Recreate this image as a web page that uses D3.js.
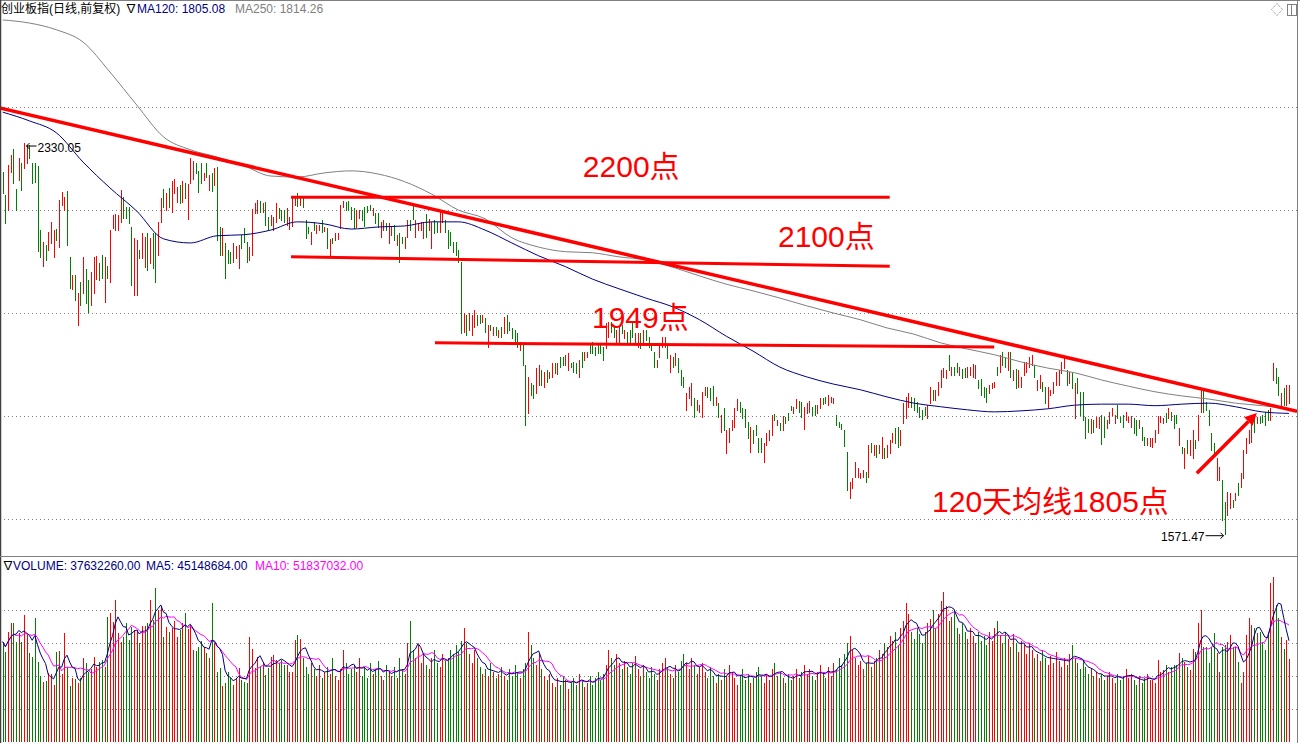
<!DOCTYPE html>
<html><head><meta charset="utf-8">
<script src="https://cdn.jsdelivr.net/npm/d3@7"></script>
<style>html,body{margin:0;padding:0;background:#fff;overflow:hidden}</style>
</head><body>
<svg id="c" width="1300" height="743"></svg>
<script>
// ---------------- DATA ----------------
const highs = [
2274,2229,2288,2307,2319,2241,2301,2292,2330.05,2326,
2326,2292,2292,2286,2161,2138,2132,2157,2177,2161,
2163,2220,2235,2225,2237,2109,2074,2074,2039,2060,
2109,2086,2064,2080,2109,2111,2097,2113,2109,2091,
2161,2190,2192,2190,2239,2225,2206,2206,2167,2146,
2142,2123,2156,2148,2156,2146,2156,2156,2177,2224,
2241,2233,2243,2257,2260,2245,2249,2257,2253,2251,
2301,2295,2292,2276,2292,2272,2292,2268,2272,2282,
2284,2167,2165,2136,2123,2119,2136,2130,2132,2152,
2165,2138,2128,2202,2214,2220,2218,2214,2216,2187,
2190,2187,2214,2204,2200,2200,2204,2187,2225,2224,
2233,2224,2225,2181,2167,2157,2177,2171,2171,2181,
2167,2165,2144,2146,2156,2156,2210,2218,2216,2218,
2206,2204,2200,2200,2200,2206,2208,2210,2204,2194,
2194,2177,2181,2175,2175,2169,2171,2152,2156,2148,
2148,2181,2181,2210,2181,2175,2177,2177,2192,2183,
2177,2181,2177,2200,2196,2181,2161,2157,2138,2138,
2123,2099,2000,1996,2000,1996,2006,1996,1996,1996,
1990,1977,1977,1973,1973,1967,1973,1992,1996,1983,
1971,1967,1961,1944,1940,1899,1876,1864,1860,1893,
1899,1889,1886,1889,1886,1903,1903,1903,1915,1915,
1919,1922,1903,1905,1903,1909,1924,1924,1924,1938,
1944,1934,1942,1938,1934,1981,1983,1983,1973,1967,
1973,1977,1967,1963,1967,1983,1961,1961,1961,1967,
1967,1954,1942,1924,1909,1938,1954,1954,1938,1919,
1915,1922,1913,1889,1876,1845,1856,1864,1835,1831,
1822,1847,1856,1856,1854,1858,1837,1825,1802,1816,
1773,1777,1792,1816,1833,1827,1816,1814,1788,1779,
1773,1783,1757,1757,1748,1767,1773,1802,1804,1792,
1787,1800,1798,1806,1820,1818,1833,1829,1827,1818,
1825,1829,1818,1822,1822,1835,1835,1837,1841,1837,
1835,1802,1788,1785,1773,1730,1672,1680,1711,1699,
1689,1695,1691,1744,1748,1744,1744,1744,1759,1738,
1744,1754,1767,1777,1779,1773,1825,1837,1845,1837,
1835,1827,1818,1812,1818,1822,1856,1851,1851,1866,
1889,1893,1889,1919,1895,1895,1903,1895,1891,1893,
1895,1895,1901,1899,1870,1872,1856,1854,1860,1864,
1866,1895,1919,1924,1913,1924,1924,1889,1891,1889,
1876,1905,1905,1915,1919,1899,1870,1880,1866,1856,
1856,1851,1866,1886,1889,1905,1913,1889,1886,1884,
1864,1874,1847,1847,1798,1794,1794,1792,1798,1798,
1802,1798,1792,1808,1816,1802,1822,1798,1802,1808,
1798,1800,1796,1792,1792,1779,1759,1757,1757,1757,
1773,1800,1800,1796,1806,1816,1808,1802,1802,1777,
1740,1738,1754,1754,1773,1754,1802,1851,1854,1827,
1812,1767,1748,1719,1701,1676,1633,1653,1651,1637,
1651,1670,1689,1734,1757,1773,1798,1802,1798,1798,
1802,1808,1812,1816,1903,1893,1876,1845,1854,1860,1860];

const lows = [
2233,2175,2200,2274,2253,2200,2258,2239,2282,2292,
2301,2253,2255,2121,2109,2091,2103,2123,2136,2109,
2142,2128,2210,2200,2132,2049,2047,2025,1977,2016,
2039,2020,2002,2016,2039,2066,2064,2068,2022,2068,
2060,2165,2161,2161,2177,2185,2185,2175,2055,2035,
2035,2107,2107,2090,2084,2097,2088,2060,2113,2177,
2206,2200,2206,2196,2233,2216,2214,2216,2224,2183,
2253,2260,2272,2235,2253,2258,2264,2239,2237,2249,
2142,2113,2113,2068,2097,2097,2099,2107,2088,2126,
2138,2099,2103,2113,2194,2194,2196,2196,2171,2161,
2171,2161,2177,2185,2181,2177,2171,2163,2169,2210,
2208,2210,2206,2146,2155,2134,2161,2155,2161,2157,
2159,2126,2113,2136,2142,2144,2165,2206,2200,2200,
2183,2165,2167,2185,2181,2169,2196,2200,2190,2175,
2167,2148,2161,2161,2136,2152,2142,2132,2099,2136,
2126,2148,2161,2183,2148,2161,2161,2146,2148,2161,
2126,2155,2157,2157,2177,2157,2126,2132,2119,2113,
2099,1961,1963,1957,1967,1957,1973,1977,1981,1983,
1963,1934,1967,1957,1957,1954,1954,1961,1961,1967,
1952,1942,1934,1928,1899,1783,1806,1841,1835,1845,
1860,1860,1856,1866,1874,1876,1884,1882,1895,1899,
1899,1889,1895,1886,1884,1876,1895,1909,1915,1922,
1922,1919,1922,1922,1909,1932,1954,1963,1954,1942,
1944,1961,1952,1944,1942,1954,1942,1934,1932,1944,
1948,1934,1928,1895,1895,1915,1934,1934,1913,1886,
1895,1899,1886,1860,1856,1812,1835,1822,1798,1812,
1808,1798,1841,1837,1831,1822,1822,1798,1769,1773,
1728,1750,1773,1779,1812,1808,1796,1779,1757,1730,
1748,1763,1730,1730,1711,1744,1754,1763,1792,1783,
1773,1773,1787,1792,1812,1806,1816,1808,1798,1775,
1806,1808,1802,1802,1806,1816,1823,1825,1822,1827,
1825,1783,1779,1775,1742,1656,1641,1660,1682,1682,
1680,1682,1672,1682,1730,1724,1720,1728,1719,1719,
1720,1728,1750,1748,1740,1744,1786,1796,1818,1818,
1812,1808,1798,1794,1802,1796,1825,1831,1831,1841,
1856,1876,1874,1889,1880,1880,1886,1880,1874,1876,
1876,1880,1876,1874,1854,1841,1837,1827,1845,1854,
1856,1880,1886,1899,1895,1889,1876,1870,1854,1856,
1856,1880,1886,1895,1899,1876,1851,1854,1849,1825,
1818,1841,1845,1860,1860,1884,1893,1860,1864,1854,
1796,1845,1802,1792,1757,1769,1767,1769,1779,1777,
1746,1759,1777,1787,1802,1787,1796,1788,1779,1792,
1788,1779,1767,1763,1777,1754,1744,1744,1742,1740,
1750,1767,1788,1787,1788,1796,1792,1777,1787,1744,
1728,1699,1728,1724,1719,1738,1754,1808,1808,1812,
1783,1734,1724,1676,1676,1598,1571.47,1608,1622,1624,
1637,1647,1662,1680,1728,1748,1750,1769,1787,1787,
1788,1783,1792,1792,1870,1864,1841,1822,1822,1822,1825];

// 1 = closed up (red), 0 = closed down (green)
const up = [
0,0,1,1,0,0,1,0,1,1, 0,0,0,0,0,1,0,1,1,1, 0,1,1,1,0,0,1,0,1,0, 1,0,0,1,1,1,0,0,1,0,
1,1,1,1,1,0,0,0,0,1, 1,0,1,1,0,1,0,0,1,1, 0,1,0,1,1,1,0,1,0,1, 1,1,0,0,0,1,0,1,0,1,
0,0,1,0,0,0,1,1,1,0, 0,0,1,1,1,1,0,1,0,0, 1,1,1,0,0,0,1,1,1,1, 0,1,0,0,0,1,0,1,1,0,
1,0,1,0,1,1,1,1,0,0, 0,0,1,1,0,0,0,0,1,0, 0,1,1,0,1,1,0,1,0,0, 1,1,0,0,1,1,1,1,0,1,
1,0,0,1,1,0,0,0,0,0, 0,0,1,0,1,1,1,0,0,1, 0,1,0,1,0,1,0,1,0,0, 0,0,0,1,0,0,1,0,0,1,
1,0,1,0,1,1,0,1,0,0, 1,1,0,0,0,1,0,1,1,0, 0,0,0,0,0,1,1,0,0,1, 1,0,1,0,0,0,1,1,0,1,
0,0,0,0,1,1,1,1,0,1, 0,1,0,0,0,1,1,1,0,1, 1,1,1,0,0,0,1,0,1,0, 1,1,1,1,1,0,0,0,0,1,
0,0,0,0,1,1,1,1,0,1, 0,1,0,0,0,1,1,0,0,1, 1,1,0,0,1,1,0,0,1,1, 1,0,0,0,0,0,1,1,1,1,
1,1,0,1,0,1,0,1,1,0, 1,1,1,0,0,1,1,1,1,0, 0,0,0,0,0,1,1,0,1,1, 1,1,1,0,1,0,0,1,0,0,
1,1,1,1,0,0,0,0,1,1, 1,0,1,0,0,1,0,1,0,1, 1,1,1,1,1,0,1,1,0,0, 1,1,1,1,1,1,1,0,1,0,
1,0,0,0,0,0,1,0,1,1, 0,0,1,1,1,1,0,0,0,1, 1,1,0,0,1,0,0,1,1,1, 1,1,1,1,0,1,0,0,0,1,
0,1,0,1,1,0,1,1,0,0, 0,0,0,1,1,0,0,1,1,0, 1,0,1,1,1,1,1,0,1,0, 0,0,0,1,1,0,0,1,0,1,1];

// volume, millions of shares
const volumeM = [
45.6,41.0,50.1,54.1,54.1,45.6,49.5,45.6,57.7,48.6,
40.5,38.8,56.4,36.5,30.0,27.4,27.9,31.4,30.9,25.9,
41.0,41.5,30.9,49.7,34.2,25.5,29.2,28.5,26.7,29.0,
38.0,35.8,32.0,33.0,38.5,34.2,36.5,37.3,34.2,57.0,
58.8,54.7,64.5,49.4,45.6,47.9,53.9,46.4,52.4,50.9,
50.9,44.9,52.7,52.7,53.9,64.5,55.4,69.9,60.0,61.8,
47.9,52.4,50.1,51.7,55.1,47.9,50.9,53.9,58.5,51.2,
53.2,41.8,41.4,43.3,46.0,43.3,40.3,38.0,63.3,44.9,
32.0,33.5,25.5,26.7,32.0,29.0,25.9,29.0,33.5,28.2,
27.4,26.7,47.9,42.1,33.5,38.5,34.2,35.8,30.5,33.5,
38.5,39.5,37.3,36.0,37.3,35.0,35.0,32.0,32.0,46.4,
48.6,
47,38,34,31,36,33,30,35,29,32,34,31,38,30,28,33,42,36,31,33,
35,32,38,30,34,29,36,31,33,37,30,28,35,32,30,34,29,38,33,31,
45,55,42,38,44,36,40,35,33,38,42,36,34,40,37,
38,42,40,44,41,46,52,
45,40,36,42,38,34,31,33,30,36,32,29,31,34,30,28,33,30,35,32,29,33,36,
50,44,38,35,40,
33,30,28,31,27,25,29,26,30,28,24,27,29,26,31,28,25,27,30,26,29,32,28,31,35,
42,38,35,40,36,33,37,34,31,36,39,33,30,35,32,29,34,31,28,33,36,38,34,31,29,35,32,37,40,36,33,38,35,31,34,
36,32,29,34,30,27,31,28,33,30,35,32,29,26,30,33,28,31,27,29,32,34,30,27,31,28,33,36,30,32,29,27,31,28,30,33,29,32,35,31,
33,30,28,32,35,31,29,34,30,36,33,38,35,40,45,48,42,38,35,37,33,36,39,34,37,
38,42,40,45,43,48,46,50,44,52,55,63,58,50,47,52,49,45,50,54,
56,60,52,58,64,68,62,55,57,60,52,49,54,50,47,52,48,45,50,46,
48,44,50,46,52,55,48,45,50,47,43,49,45,41,46,44,40,45,42,38,
40,37,42,38,35,39,36,41,37,34,38,35,40,44,38,36,33,37,34,31,
33,30,32,29,31,28,30,32,29,27,31,28,30,33,29,31,28,26,30,27,29,31,28,
28.2,26.7,37.3,32.0,32.7,35.0,32.0,34.2,35.0,35.0,40.3,38.0,36.5,34.2,32.7,42.1,41.0,53.9,60.0,43.3,
43.3,35.8,43.3,49.4,40.3,32.0,43.3,44.1,45.6,48.6,43.3,43.3,36.5,26.7,32.0,48.6,56.2,53.2,51.7,49.4,
50.1,45.6,41.8,50.1,72.1,74.9,62.3,56.2,47.9,42.1,46.4,37.63];

// moving averages read every 10 bars
const maStep = 10;
const ma120 = [2390,2373,2350,2293,2243,2198,2144,2136,2150,2152,
2161,2177,2173,2163,2167,2169,2177,2177,2161,2136,
2111,2090,2066,2047,2029,2012,1987,1955,1926,1895,
1876,1862,1851,1837,1825,1818,1812,1808,1810,1814,
1821,1823,1823,1820,1823,1825,1818,1808,1805.08];
const ma250 = [2569,2563,2550,2526,2468,2404,2342,2317,2303,2286,
2266,2264,2272,2276,2270,2255,2231,2200,2183,2146,
2128,2119,2117,2109,2103,2089,2072,2056,2043,2029,
2014,2000,1987,1971,1959,1942,1930,1919,1905,1893,
1884,1870,1858,1847,1839,1833,1825,1820,1814.26];

const priceTicks = [1600, 1800, 2000, 2200, 2400];
const volTicks = [15, 30, 45, 60];

const titleText = "创业板指(日线,前复权)";
const ma120Text = "MA120: 1805.08";
const ma250Text = "MA250: 1814.26";
const volText = "VOLUME: 37632260.00";
const ma5Text = "MA5: 45148684.00";
const ma10Text = "MA10: 51837032.00";
const highLabel = "2330.05";
const lowLabel = "1571.47";

// annotations in data units (bar index, price)
const trendLine = [[-1.0, 2398], [483, 1809]];
const levelLines = [
  [[107.6, 2225], [331, 2225]],
  [[107.6, 2109], [331, 2091]],
  [[161.3, 1942], [370, 1934]]
];
const noteTexts = [
  {t: "2200点", i: 216.5, p: 2264},
  {t: "2100点", i: 289.3, p: 2128},
  {t: "1949点", i: 219.9, p: 1971},
  {t: "120天均线1805点", i: 346.8, p: 1614}
];
const arrowLine = [[445.6, 1689], [468, 1806]];

// ---------------- DRAW ----------------
const N = Math.min(highs.length, lows.length, up.length, volumeM.length);
const svg = d3.select("#c");
const RED = "#ff0000", GREEN = "#008000", NAVY = "#000080", GRAY = "#808080", MAG = "#ff00ff";
const FONT = "'Liberation Sans', Arial, 'Noto Sans CJK SC', sans-serif";

const x = d3.scaleLinear().domain([0, N - 1]).range([2.7, 1289]);
const y = d3.scaleLinear().domain([1600, 2400]).range([519, 107]);
const yv = d3.scaleLinear().domain([0, 60]).range([742, 610]);
const px = i => Math.round(x(i)) + 0.5;

svg.append("rect").attr("width", 1300).attr("height", 743).attr("fill", "#fff");

const defs = svg.append("defs");
defs.append("clipPath").attr("id", "cp").append("rect").attr("x", 1).attr("y", 17).attr("width", 1296).attr("height", 539);
defs.append("clipPath").attr("id", "cv").append("rect").attr("x", 1).attr("y", 574).attr("width", 1296).attr("height", 170);

// grid
svg.append("g").selectAll("line").data(priceTicks).join("line")
  .attr("x1", 0).attr("x2", 1297)
  .attr("y1", d => Math.round(y(d)) + 0.5).attr("y2", d => Math.round(y(d)) + 0.5)
  .attr("stroke", GRAY).attr("stroke-dasharray", "1,3");
svg.append("g").selectAll("line").data(volTicks).join("line")
  .attr("x1", 0).attr("x2", 1297)
  .attr("y1", d => Math.round(yv(d)) + 0.5).attr("y2", d => Math.round(yv(d)) + 0.5)
  .attr("stroke", GRAY).attr("stroke-dasharray", "1,3");

// frame
svg.append("line").attr("x1", 0).attr("x2", 1300).attr("y1", 0.5).attr("y2", 0.5).attr("stroke", GRAY);
svg.append("line").attr("x1", 0.5).attr("x2", 0.5).attr("y1", 0).attr("y2", 743).attr("stroke", "#404040").attr("stroke-width", 1.5);
svg.append("line").attr("x1", 1297.5).attr("x2", 1297.5).attr("y1", 0).attr("y2", 743).attr("stroke", GRAY);
svg.append("line").attr("x1", 0).attr("x2", 1297).attr("y1", 556.5).attr("y2", 556.5).attr("stroke", GRAY);

const idx = d3.range(N);

// candles
const pg = svg.append("g").attr("clip-path", "url(#cp)");
pg.append("g").attr("shape-rendering", "crispEdges").selectAll("line").data(idx).join("line")
  .attr("x1", px).attr("x2", px)
  .attr("y1", i => Math.round(y(highs[i]))).attr("y2", i => Math.round(y(lows[i])) + 1)
  .attr("stroke", i => up[i] ? RED : GREEN).attr("stroke-width", 1);

// MA lines
const maLine = d3.line().x(d => x(d[0])).y(d => y(d[1])).curve(d3.curveMonotoneX);
pg.append("path").attr("d", maLine(ma250.map((v, k) => [k * maStep, v])))
  .attr("fill", "none").attr("stroke", GRAY).attr("stroke-width", 1);
pg.append("path").attr("d", maLine(ma120.map((v, k) => [k * maStep, v])))
  .attr("fill", "none").attr("stroke", NAVY).attr("stroke-width", 1);

// annotations
const aLine = d3.line().x(d => x(d[0])).y(d => y(d[1]));
pg.append("path").attr("d", aLine(trendLine)).attr("stroke", RED).attr("stroke-width", 3.5).attr("fill", "none");
levelLines.forEach(l => pg.append("path").attr("d", aLine(l)).attr("stroke", RED).attr("stroke-width", 3).attr("fill", "none"));
noteTexts.forEach(n => pg.append("text").attr("x", x(n.i)).attr("y", y(n.p))
  .attr("fill", RED).attr("font-size", 30).attr("font-family", FONT).text(n.t));

// arrow
{
  const [a, b] = arrowLine;
  const x0 = x(a[0]), y0 = y(a[1]), x1 = x(b[0]), y1 = y(b[1]);
  const ang = Math.atan2(y1 - y0, x1 - x0);
  const hl = 12, hw = 6;
  const bx = x1 - hl * Math.cos(ang), by = y1 - hl * Math.sin(ang);
  pg.append("line").attr("x1", x0).attr("y1", y0).attr("x2", bx).attr("y2", by).attr("stroke", RED).attr("stroke-width", 3.5);
  pg.append("path").attr("d", `M${x1},${y1}L${bx + hw * Math.sin(ang)},${by - hw * Math.cos(ang)}L${bx - hw * Math.sin(ang)},${by + hw * Math.cos(ang)}Z`).attr("fill", RED);
}

// high / low labels
{
  const hi = highs.indexOf(d3.max(highs));
  const hx = px(hi), hy = y(highs[hi]);
  pg.append("path").attr("d", `M${hx + 12},${hy + 3}L${hx + 2},${hy + 3}M${hx + 5},${hy}L${hx + 2},${hy + 3}L${hx + 5},${hy + 6}`)
    .attr("stroke", "#000").attr("fill", "none");
  pg.append("text").attr("x", hx + 13).attr("y", hy + 9).attr("font-size", 12).attr("font-family", FONT).attr("fill", "#000").text(highLabel);
  const lo = lows.indexOf(d3.min(lows));
  const lx = px(lo), ly = y(lows[lo]);
  pg.append("path").attr("d", `M${lx - 20},${ly + 2}L${lx - 2},${ly + 2}M${lx - 5},${ly - 1}L${lx - 2},${ly + 2}L${lx - 5},${ly + 5}`)
    .attr("stroke", "#000").attr("fill", "none");
  pg.append("text").attr("x", lx - 21).attr("y", ly + 7).attr("text-anchor", "end").attr("font-size", 12).attr("font-family", FONT).attr("fill", "#000").text(lowLabel);
}

// volume
const vg = svg.append("g").attr("clip-path", "url(#cv)");
vg.append("g").attr("shape-rendering", "crispEdges").selectAll("line").data(idx).join("line")
  .attr("x1", px).attr("x2", px)
  .attr("y1", yv(0)).attr("y2", i => Math.round(yv(volumeM[i])))
  .attr("stroke", i => up[i] ? RED : GREEN).attr("stroke-width", 1);
const mav = n => idx.map(i => d3.mean(volumeM.slice(Math.max(0, i - n + 1), i + 1)));
const vLine = d3.line().x((d, i) => x(i)).y(d => yv(d));
vg.append("path").attr("d", vLine(mav(10))).attr("fill", "none").attr("stroke", MAG).attr("stroke-width", 1);
vg.append("path").attr("d", vLine(mav(5))).attr("fill", "none").attr("stroke", NAVY).attr("stroke-width", 1);

// headers
const h1 = svg.append("text").attr("x", 1).attr("y", 13).attr("font-size", 12).attr("font-family", FONT);
h1.append("tspan").attr("fill", "#000").text(titleText);
h1.append("tspan").attr("x", 125).attr("fill", "#000").text("∇");
h1.append("tspan").attr("x", 137).attr("fill", NAVY).text(ma120Text);
h1.append("tspan").attr("x", 235).attr("fill", GRAY).text(ma250Text);

const h2 = svg.append("text").attr("x", 2).attr("y", 570).attr("font-size", 12).attr("font-family", FONT);
h2.append("tspan").attr("fill", "#000").text("∇");
h2.append("tspan").attr("x", 13).attr("fill", NAVY).text(volText);
h2.append("tspan").attr("x", 146).attr("fill", NAVY).text(ma5Text);
h2.append("tspan").attr("x", 255).attr("fill", MAG).text(ma10Text);

// top-right icons
svg.append("path").attr("d", "M1277,3.5L1282.5,9.5L1277,15.5L1271.5,9.5Z").attr("fill", "none").attr("stroke", GRAY).attr("stroke-dasharray", "1,1");
svg.append("rect").attr("x", 1287.5).attr("y", 4.5).attr("width", 9).attr("height", 11).attr("fill", "none").attr("stroke", GRAY);
svg.append("line").attr("x1", 1291.5).attr("x2", 1291.5).attr("y1", 4.5).attr("y2", 15.5).attr("stroke", GRAY);
</script>
</body></html>
